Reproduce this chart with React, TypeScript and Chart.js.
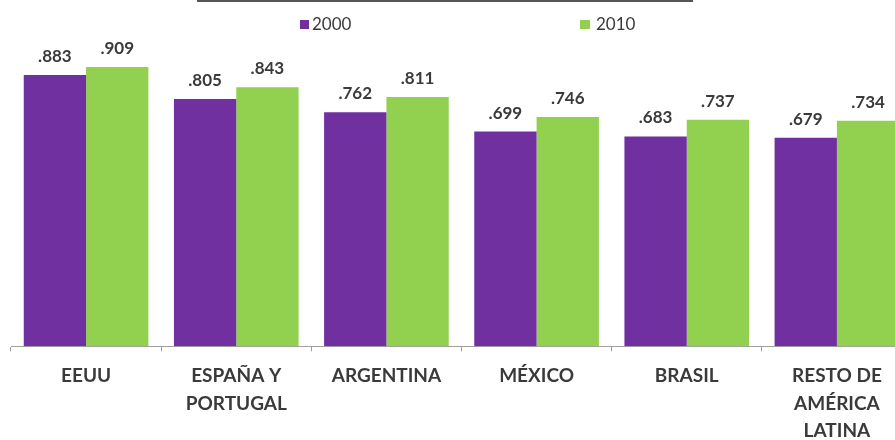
import React, { useEffect, useRef } from "react";
import { Chart, registerables } from "chart.js";

Chart.register(...registerables);

const categories: string[][] = [
  ["EEUU"],
  ["ESPAÑA Y", "PORTUGAL"],
  ["ARGENTINA"],
  ["MÉXICO"],
  ["BRASIL"],
  ["RESTO DE", "AMÉRICA", "LATINA"],
];
const series2000: number[] = [0.883, 0.805, 0.762, 0.699, 0.683, 0.679];
const series2010: number[] = [0.909, 0.843, 0.811, 0.746, 0.737, 0.734];
const seriesLabels = ["2000", "2010"];
const seriesColors = ["#7030A0", "#92D050"];

const FONT = "Lato, 'Open Sans', sans-serif";
const TEXT = "#3a3a3a";

const valueLabels = {
  id: "valueLabels",
  afterDatasetsDraw(chart: any) {
    const ctx = chart.ctx;
    ctx.save();
    ctx.font = `bold 17px ${FONT}`;
    ctx.fillStyle = TEXT;
    ctx.textAlign = "center";
    ctx.textBaseline = "alphabetic";
    chart.data.datasets.forEach((ds: any, i: number) => {
      const meta = chart.getDatasetMeta(i);
      meta.data.forEach((bar: any, j: number) => {
        const v = ds.data[j] as number;
        const txt = v.toFixed(3).replace(/^0/, "");
        ctx.fillText(txt, bar.x, bar.y - 13);
      });
    });
    ctx.restore();
  },
};

export default function App() {
  const ref = useRef<HTMLCanvasElement | null>(null);
  useEffect(() => {
    if (!ref.current) return;
    const chart = new Chart(ref.current, {
      type: "bar",
      data: {
        labels: categories,
        datasets: [
          {
            label: seriesLabels[0],
            data: series2000,
            backgroundColor: seriesColors[0],
            categoryPercentage: 0.83,
            barPercentage: 1,
          },
          {
            label: seriesLabels[1],
            data: series2010,
            backgroundColor: seriesColors[1],
            categoryPercentage: 0.83,
            barPercentage: 1,
          },
        ],
      },
      options: {
        responsive: false,
        animation: false,
        devicePixelRatio: 1,
        layout: { padding: { left: 11, right: 8, top: 39, bottom: 6 } },
        plugins: {
          legend: { display: false },
          tooltip: { enabled: false },
          title: { display: false },
        },
        scales: {
          x: {
            offset: true,
            grid: {
              offset: true,
              drawOnChartArea: false,
              drawTicks: true,
              tickLength: 5,
              color: "#a0a0a0",
            },
            border: { display: true, color: "#a0a0a0", width: 1 },
            ticks: {
              padding: 11,
              color: TEXT,
              maxRotation: 0,
              autoSkip: false,
              font: { family: FONT, size: 19, weight: "bold", lineHeight: 1.45 },
            },
          },
          y: {
            display: false,
            min: 0,
            max: 1,
          },
        },
      },
      plugins: [valueLabels],
    });
    return () => chart.destroy();
  }, []);

  const legendText: React.CSSProperties = {
    position: "absolute",
    fontFamily: FONT,
    fontSize: 17,
    color: TEXT,
    lineHeight: "20px",
  };
  return (
    <div
      style={{
        position: "absolute",
        left: 0,
        top: 0,
        width: 895,
        height: 440,
        overflow: "hidden",
        background: "#fff",
      }}
    >
      <canvas ref={ref} width={920} height={462} style={{ position: "absolute", left: 0, top: 0 }} />
      <div
        style={{
          position: "absolute",
          left: 197,
          top: 0,
          width: 496,
          height: 2,
          background: "#555",
        }}
      />
      <div style={{ position: "absolute", left: 300, top: 20, width: 9, height: 9, background: seriesColors[0] }} />
      <div style={{ ...legendText, left: 312, top: 14 }}>{seriesLabels[0]}</div>
      <div style={{ position: "absolute", left: 580, top: 20, width: 10, height: 9, background: seriesColors[1] }} />
      <div style={{ ...legendText, left: 596, top: 14 }}>{seriesLabels[1]}</div>
    </div>
  );
}
